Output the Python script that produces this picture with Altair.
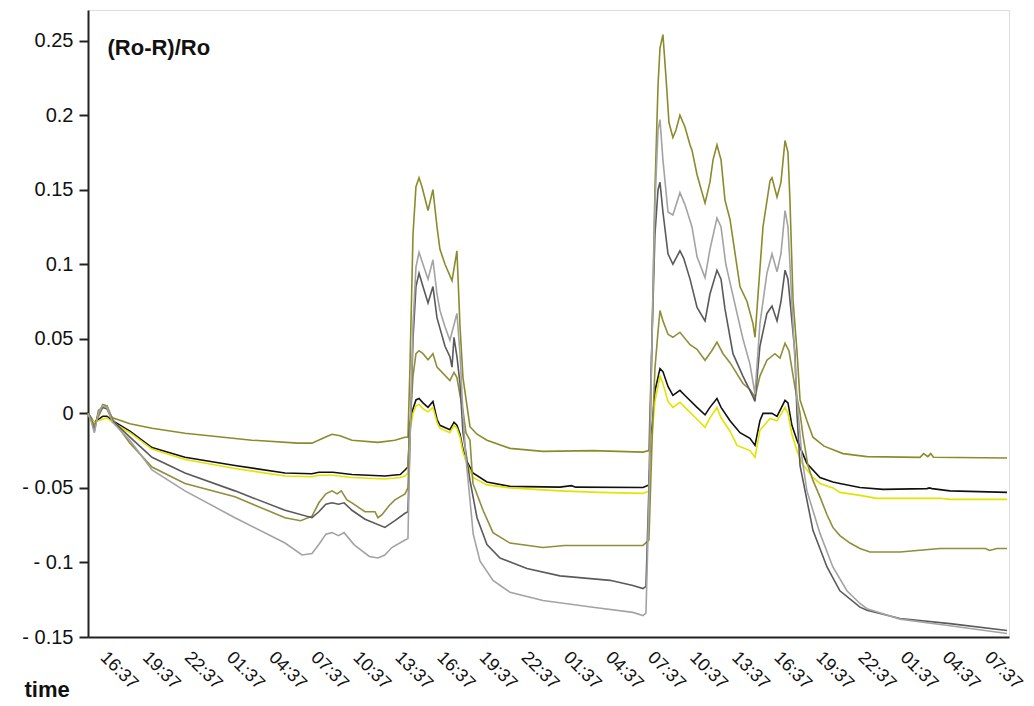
import altair as alt
import pandas as pd

# time in hours since 00:00 of day 1; value = (Ro-R)/Ro
A_t = [15.55, 15.8, 16.0, 16.3, 16.6, 16.9, 17.1, 17.3, 18.54, 20.11, 22.46, 27.23, 30.51, 31.51, 32.44, 32.94,
       33.51, 34.36, 36.21, 37.42, 38.14, 38.35, 38.49, 38.71, 38.92, 39.14, 39.35, 39.78, 40.13, 40.42, 40.63,
       40.99, 41.49, 41.84, 42.06, 42.27, 42.77, 43.27, 43.98, 45.62, 47.97, 51.53, 55.10, 55.52, 55.74, 55.95,
       56.17, 56.31, 56.52, 56.74, 56.95, 57.23, 57.45, 57.73, 58.09, 58.45, 58.59, 58.95, 59.52, 59.87, 60.09,
       60.37, 60.66, 60.94, 61.30, 62.01, 62.51, 62.94, 63.08, 63.30, 63.65, 64.15, 64.29, 64.65, 64.93, 65.22,
       65.43, 65.57, 65.79, 66.07, 66.29, 66.78, 67.21, 68.0, 69.35, 71.06, 74.84, 75.1, 75.4, 75.6, 75.8, 81.04]
A_v = [0.0, -0.003, -0.007, -0.002, 0.004, 0.005, 0.0, -0.003, -0.007, -0.010, -0.0134, -0.018, -0.020, -0.020,
       -0.016, -0.014, -0.015, -0.018, -0.0195, -0.018, -0.016, -0.016, 0.03, 0.12, 0.152, 0.158, 0.152, 0.136,
       0.150, 0.125, 0.110, 0.100, 0.089, 0.109, 0.058, 0.024, -0.009, -0.014, -0.018, -0.0235, -0.0255, -0.025,
       -0.026, -0.025, 0.05, 0.15, 0.22, 0.245, 0.254, 0.225, 0.195, 0.185, 0.190, 0.200, 0.192, 0.180, 0.1765,
       0.160, 0.141, 0.155, 0.170, 0.180, 0.170, 0.143, 0.130, 0.085, 0.075, 0.060, 0.051, 0.080, 0.125, 0.156,
       0.158, 0.145, 0.155, 0.183, 0.175, 0.143, 0.076, 0.042, 0.009, -0.005, -0.016, -0.022, -0.027, -0.029,
       -0.0295, -0.027, -0.029, -0.027, -0.0295, -0.030]

B_t = [15.55, 15.8, 16.0, 16.3, 16.6, 16.9, 17.3, 18.54, 20.11, 22.46, 26.02, 29.59, 31.51, 32.0, 33.0, 34.36,
       36.71, 37.8, 38.14, 38.35, 38.49, 38.71, 38.92, 39.14, 39.42, 39.78, 40.13, 40.42, 40.63, 41.34, 41.63,
       41.84, 42.06, 42.27, 42.48, 42.98, 43.98, 45.62, 49.18, 50.0, 50.3, 55.10, 55.52, 55.74, 55.95, 56.31,
       56.52, 56.88, 57.23, 57.73, 58.09, 58.95, 59.52, 59.87, 60.37, 60.66, 61.30, 62.01, 62.72, 63.08, 63.43,
       63.65, 64.29, 64.65, 65.22, 65.43, 65.71, 66.07, 66.78, 67.71, 68.63, 69.13, 70.56, 72.20, 75.33, 75.5,
       75.7, 76.97, 81.04]
B_v = [0.0, -0.004, -0.006, -0.004, -0.002, -0.002, -0.005, -0.012, -0.023, -0.0295, -0.035, -0.040, -0.0405,
       -0.0395, -0.0395, -0.041, -0.042, -0.041, -0.038, -0.036, -0.007, 0.003, 0.009, 0.010, 0.007, 0.004, 0.008,
       -0.004, -0.008, -0.011, -0.006, -0.008, -0.014, -0.024, -0.031, -0.040, -0.046, -0.049, -0.0495, -0.0485,
       -0.0495, -0.0497, -0.048, -0.010, 0.015, 0.030, 0.028, 0.018, 0.012, 0.0154, 0.012, 0.004, -0.001, 0.004,
       0.010, 0.004, -0.005, -0.013, -0.0168, -0.0215, -0.005, 0.0, 0.0, -0.002, 0.0087, 0.007, -0.008, -0.018,
       -0.0336, -0.043, -0.046, -0.047, -0.0497, -0.051, -0.0505, -0.050, -0.0505, -0.052, -0.053]

C_t = [15.55, 15.8, 16.0, 16.3, 16.6, 16.9, 17.3, 18.54, 20.11, 22.46, 26.02, 29.59, 31.51, 32.0, 33.0, 34.36,
       36.71, 37.8, 38.14, 38.35, 38.49, 38.71, 38.92, 39.14, 39.42, 39.78, 40.13, 40.42, 40.63, 41.34, 41.63,
       41.84, 42.06, 42.27, 42.48, 42.98, 43.98, 45.62, 49.18, 52.0, 55.10, 55.52, 55.74, 55.95, 56.31, 56.52,
       56.88, 57.23, 57.73, 58.09, 58.95, 59.52, 59.87, 60.37, 60.66, 61.30, 61.80, 62.72, 63.08, 63.43, 64.15,
       64.65, 65.22, 65.43, 65.71, 66.07, 66.43, 67.21, 67.71, 68.63, 69.13, 70.56, 71.77, 76.26, 76.97, 81.04]
C_v = [-0.001, -0.004, -0.006, -0.005, -0.004, -0.003, -0.006, -0.013, -0.024, -0.031, -0.037, -0.042, -0.0425,
       -0.0415, -0.0415, -0.043, -0.044, -0.043, -0.042, -0.040, -0.012, 0.0, 0.005, 0.006, 0.003, 0.001, 0.004,
       -0.006, -0.010, -0.013, -0.008, -0.010, -0.016, -0.026, -0.032, -0.043, -0.048, -0.050, -0.052, -0.053,
       -0.0537, -0.052, -0.015, 0.008, 0.025, 0.020, 0.008, 0.004, 0.0074, 0.004, -0.004, -0.0094, -0.003, 0.004,
       -0.003, -0.012, -0.0215, -0.025, -0.0295, -0.0114, -0.0034, -0.005, 0.004, 0.0, -0.014, -0.025, -0.0336,
       -0.043, -0.047, -0.050, -0.053, -0.055, -0.057, -0.057, -0.0577, -0.0577]

D_t = [15.55, 15.8, 16.0, 16.3, 16.6, 16.9, 17.3, 18.54, 20.11, 22.46, 26.02, 29.59, 30.7, 31.51, 32.0, 32.5,
       32.94, 33.3, 33.6, 34.0, 34.36, 35.29, 36.0, 36.21, 36.5, 37.0, 37.42, 38.14, 38.35, 38.49, 38.71, 38.92,
       39.14, 39.42, 39.78, 40.13, 40.42, 40.63, 41.34, 41.63, 41.84, 42.06, 42.27, 42.48, 42.77, 42.98, 43.7,
       44.41, 45.62, 47.97, 49.5, 51.53, 55.10, 55.52, 55.74, 55.95, 56.17, 56.31, 56.52, 56.88, 57.23, 57.73,
       58.45, 58.95, 59.52, 60.0, 60.37, 60.8, 61.30, 62.22, 62.72, 63.08, 63.43, 63.93, 64.5, 64.86, 65.22,
       65.50, 65.93, 66.29, 66.50, 66.85, 67.21, 67.71, 68.21, 68.63, 69.13, 69.85, 70.56, 71.27, 73.41, 76.26,
       79.5, 79.8, 80.3, 81.04]
D_v = [0.0, -0.004, -0.010, 0.0, 0.006, 0.005, -0.004, -0.020, -0.036, -0.047, -0.056, -0.070, -0.072, -0.069,
       -0.060, -0.054, -0.052, -0.054, -0.052, -0.058, -0.060, -0.066, -0.066, -0.070, -0.068, -0.062, -0.058,
       -0.054, -0.050, -0.010, 0.025, 0.040, 0.042, 0.040, 0.036, 0.040, 0.031, 0.029, 0.022, 0.0275, 0.024, 0.012,
       0.002, -0.013, -0.018, -0.047, -0.065, -0.080, -0.087, -0.090, -0.0886, -0.0886, -0.0886, -0.085, -0.020,
       0.030, 0.055, 0.069, 0.062, 0.053, 0.051, 0.0544, 0.046, 0.043, 0.0356, 0.042, 0.0477, 0.040, 0.034, 0.020,
       0.016, 0.011, 0.025, 0.0356, 0.040, 0.037, 0.047, 0.042, 0.0175, 0.0, -0.015, -0.035, -0.045, -0.056,
       -0.068, -0.0765, -0.082, -0.087, -0.0906, -0.093, -0.093, -0.0906, -0.0906, -0.092, -0.0906, -0.0906]

E_t = [15.55, 15.8, 16.0, 16.3, 16.6, 16.9, 17.3, 18.54, 20.11, 22.46, 26.02, 29.59, 31.51, 32.0, 32.5, 32.94,
       33.4, 33.8, 34.36, 35.29, 36.71, 37.42, 38.14, 38.35, 38.49, 38.71, 38.92, 39.14, 39.42, 39.78, 40.13,
       40.42, 40.99, 41.34, 41.49, 41.63, 41.84, 42.06, 42.27, 42.77, 43.27, 43.98, 44.91, 46.83, 49.18, 52.75,
       54.38, 55.10, 55.31, 55.52, 55.74, 55.95, 56.17, 56.31, 56.52, 56.88, 57.23, 57.73, 58.0, 58.45, 58.95,
       59.52, 59.87, 60.37, 60.66, 60.94, 61.51, 62.22, 62.94, 63.08, 63.43, 63.93, 64.29, 64.65, 64.93, 65.22,
       65.43, 65.93, 66.07, 66.29, 67.21, 68.21, 69.13, 70.56, 71.06, 73.41, 76.97, 81.04]
E_v = [0.0, -0.005, -0.012, 0.002, 0.004, 0.003, -0.005, -0.016, -0.0295, -0.040, -0.052, -0.065, -0.070, -0.066,
       -0.061, -0.060, -0.061, -0.060, -0.065, -0.071, -0.0765, -0.072, -0.067, -0.066, -0.020, 0.050, 0.085,
       0.094, 0.085, 0.074, 0.085, 0.064, 0.045, 0.038, 0.031, 0.051, 0.038, 0.020, -0.013, -0.045, -0.070, -0.088,
       -0.097, -0.104, -0.109, -0.112, -0.1155, -0.1175, -0.116, -0.050, 0.050, 0.120, 0.150, 0.155, 0.135, 0.107,
       0.100, 0.109, 0.104, 0.090, 0.071, 0.062, 0.080, 0.096, 0.090, 0.070, 0.040, 0.025, 0.011, 0.008, 0.045,
       0.067, 0.072, 0.062, 0.075, 0.096, 0.090, 0.040, 0.0, -0.035, -0.0785, -0.103, -0.119, -0.130, -0.132,
       -0.1376, -0.141, -0.1456]

F_t = [15.55, 15.8, 16.0, 16.3, 16.6, 16.9, 17.3, 18.54, 20.11, 22.46, 26.02, 29.59, 30.8, 31.51, 32.0, 32.5,
       32.94, 33.4, 33.8, 34.5, 35.6, 36.21, 36.7, 37.2, 38.14, 38.35, 38.49, 38.71, 38.92, 39.14, 39.42, 39.78,
       40.13, 40.42, 40.63, 40.99, 41.34, 41.84, 42.06, 42.27, 42.48, 42.77, 43.0, 43.48, 44.41, 45.62, 47.97,
       51.53, 54.38, 55.10, 55.31, 55.52, 55.74, 55.95, 56.17, 56.31, 56.52, 56.88, 57.23, 57.73, 58.09, 58.59,
       58.95, 59.52, 59.87, 60.37, 60.66, 61.0, 61.80, 62.22, 62.72, 63.08, 63.43, 63.93, 64.29, 64.65, 64.93,
       65.22, 65.43, 65.79, 66.07, 66.43, 66.78, 67.71, 68.63, 69.63, 70.56, 71.06, 73.41, 76.97, 81.04]
F_v = [0.0, -0.006, -0.013, 0.001, 0.005, 0.004, -0.006, -0.018, -0.038, -0.052, -0.070, -0.087, -0.095, -0.094,
       -0.088, -0.081, -0.080, -0.082, -0.080, -0.088, -0.096, -0.097, -0.095, -0.090, -0.085, -0.084, -0.020,
       0.060, 0.098, 0.108, 0.100, 0.090, 0.103, 0.080, 0.069, 0.058, 0.049, 0.067, 0.040, 0.0, -0.030, -0.058,
       -0.081, -0.099, -0.112, -0.120, -0.1255, -0.130, -0.1335, -0.1356, -0.134, -0.060, 0.050, 0.140, 0.190,
       0.197, 0.170, 0.135, 0.133, 0.148, 0.140, 0.125, 0.105, 0.091, 0.110, 0.131, 0.125, 0.100, 0.067, 0.050,
       0.033, 0.013, 0.060, 0.094, 0.107, 0.095, 0.107, 0.136, 0.125, 0.060, 0.010, -0.030, -0.052, -0.0805,
       -0.103, -0.119, -0.1275, -0.131, -0.138, -0.1425, -0.1477]

series_names = ["A", "B", "C", "D", "E", "F"]
series_colors = ["#8c8b2c", "#111111", "#e3e300", "#8f8e3a", "#5a5a5a", "#a3a3a3"]

x_tick_values = [16.617, 19.617, 22.617, 25.617, 28.617, 31.617, 34.617, 37.617, 40.617, 43.617, 46.617,
                 49.617, 52.617, 55.617, 58.617, 61.617, 64.617, 67.617, 70.617, 73.617, 76.617, 79.617]
x_tick_labels = ["16:37", "19:37", "22:37", "01:37", "04:37", "07:37", "10:37", "13:37", "16:37", "19:37",
                 "22:37", "01:37", "04:37", "07:37", "10:37", "13:37", "16:37", "19:37", "22:37", "01:37",
                 "04:37", "07:37"]
y_tick_values = [-0.15, -0.1, -0.05, 0, 0.05, 0.1, 0.15, 0.2, 0.25]
y_tick_labels = ["- 0.15", "- 0.1", "- 0.05", "0", "0.05", "0.1", "0.15", "0.2", "0.25"]

ts = [A_t, B_t, C_t, D_t, E_t, F_t]
vs = [A_v, B_v, C_v, D_v, E_v, F_v]
frames = []
for name, t, v in zip(series_names, ts, vs):
    frames.append(pd.DataFrame({"series": name, "t": t, "v": v, "i": range(len(t))}))
df = pd.concat(frames, ignore_index=True)

xlab_expr = "[" + ",".join("'%s'" % s for s in x_tick_labels) + "][round((datum.value - 16.617) / 3)]"
ylab_expr = "[" + ",".join("'%s'" % s for s in y_tick_labels) + "][round((datum.value + 0.15) / 0.05)]"

FONT = "Liberation Sans"

chart = alt.Chart(df).mark_line(strokeWidth=1.6, interpolate="linear").encode(
    x=alt.X("t:Q",
            scale=alt.Scale(domain=[15.55, 81.18], nice=False, zero=False),
            axis=alt.Axis(values=x_tick_values, labelExpr=xlab_expr, ticks=False, grid=False,
                          domainColor="#222222", domainWidth=2,
                          labelAngle=45, labelAlign="left", labelBaseline="top", labelPadding=11,
                          labelOffset=6,
                          labelFont=FONT, labelFontSize=18, labelColor="#111111", labelOverlap=False,
                          title="time", titleFont=FONT, titleFontSize=22, titleFontWeight="bold",
                          titleColor="#111111", titleX=-64, titleY=52, titleAlign="left",
                          titleBaseline="middle", titleAngle=0)),
    y=alt.Y("v:Q",
            scale=alt.Scale(domain=[-0.15, 0.2705], nice=False, zero=False),
            axis=alt.Axis(values=y_tick_values, labelExpr=ylab_expr, grid=False,
                          domainColor="#222222", domainWidth=2, tickColor="#222222", tickWidth=2,
                          tickSize=9, labelPadding=6, labelFont=FONT, labelFontSize=20,
                          labelColor="#111111", labelOverlap=False,
                          title="(Ro-R)/Ro", titleFont=FONT, titleFontSize=22, titleFontWeight="bold",
                          titleColor="#111111", titleAngle=0, titleX=19, titleY=37,
                          titleAlign="left", titleBaseline="middle")),
    color=alt.Color("series:N", scale=alt.Scale(domain=series_names, range=series_colors), legend=None),
    order="i:Q",
).properties(
    width=921,
    height=627,
    padding={"left": 80, "top": 2, "right": 17, "bottom": 68},
    autosize=alt.AutoSizeParams(type="none"),
).configure_view(
    stroke="#222222", strokeWidth=2
).configure(background="white")

chart.save("out.html", embed_options={"renderer": "svg", "actions": False})
